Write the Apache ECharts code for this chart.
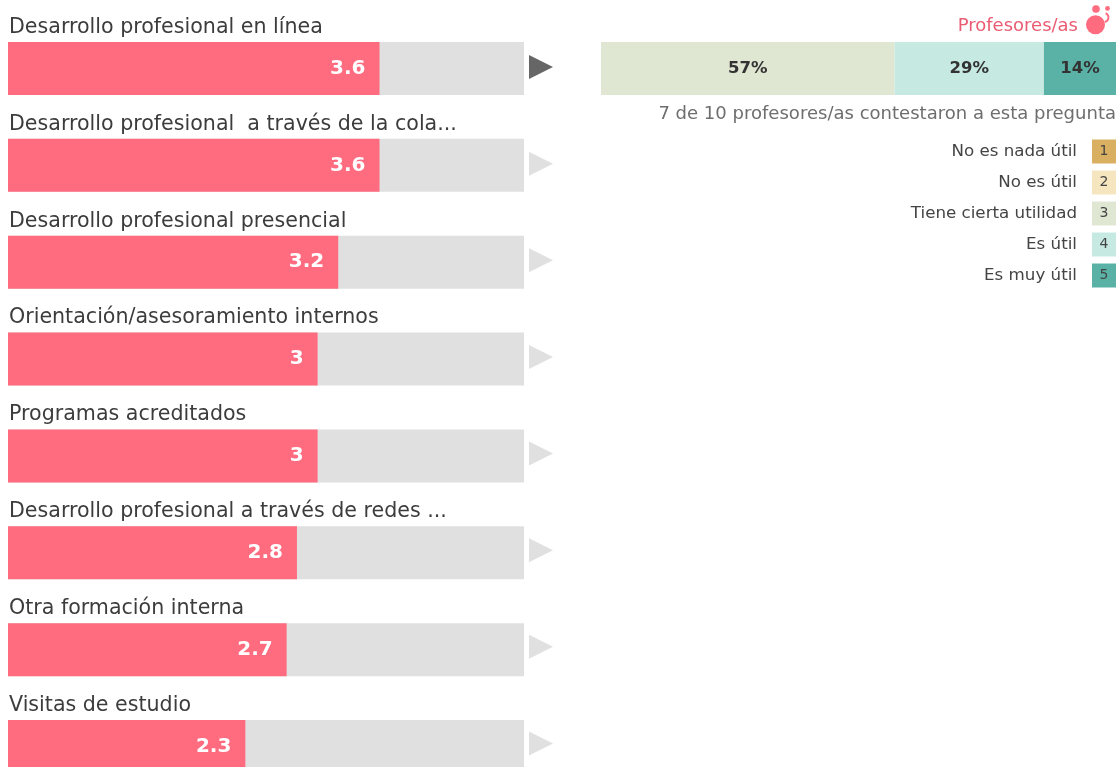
<!DOCTYPE html>
<html>
<head>
<meta charset="utf-8">
<style>
  html, body { margin: 0; padding: 0; background: #fff; overflow: hidden; height: 767px; }
  /* the list runs past the bottom of the window, as in the original page */
  #chart { width: 1118px; height: 800px; }
</style>
<script src="https://cdn.jsdelivr.net/npm/echarts@6/dist/echarts.min.js"></script>
</head>
<body>
<div id="chart"></div>
<script>
const categories = [
  "Desarrollo profesional en línea",
  "Desarrollo profesional  a través de la cola...",
  "Desarrollo profesional presencial",
  "Orientación/asesoramiento internos",
  "Programas acreditados",
  "Desarrollo profesional a través de redes ...",
  "Otra formación interna",
  "Visitas de estudio",
];
const scores = [3.6, 3.6, 3.2, 3, 3, 2.8, 2.7, 2.3];
const selectedIndex = 0;
const shareValues = [57, 29, 14];
const shareLevels = [2, 3, 4];
const levelLabels = ["No es nada útil", "No es útil", "Tiene cierta utilidad", "Es útil", "Es muy útil"];
const levelKeys = [1, 2, 3, 4, 5];
const levelColors = ["#d9af62", "#f6e6c0", "#dfe6d2", "#c6eae2", "#5ab2a6"];

const FONT = "DejaVu Sans";
const PINK = "#ff6b7f";
const chart = echarts.init(document.getElementById("chart"), null, { renderer: "canvas" });

const option = {
  animation: false,
  textStyle: { fontFamily: FONT },
  grid: [
    { left: 8, top: 20, width: 516, height: 775 },   // score bars
    { left: 529, top: 18.7, width: 24, height: 773 },  // arrows
    { left: 601, top: 42, width: 515, height: 53 },  // stacked share
    { left: 1092, top: 136, width: 24, height: 155 }, // level key
  ],
  xAxis: [
    { gridIndex: 0, type: "value", min: 0, max: 5, show: false },
    { gridIndex: 1, type: "category", data: ["arrow"], show: false },
    { gridIndex: 2, type: "value", min: 0, max: 100, show: false },
    { gridIndex: 3, type: "value", min: 0, max: 1, show: false },
  ],
  yAxis: [
    { gridIndex: 0, type: "category", inverse: true, data: categories, show: false },
    { gridIndex: 1, type: "category", inverse: true, data: categories, show: false },
    { gridIndex: 2, type: "category", data: ["share"], show: false },
    {
      gridIndex: 3,
      type: "category",
      inverse: true,
      data: levelLabels,
      axisLine: { show: false },
      axisTick: { show: false },
      axisLabel: { margin: 15, interval: 0, color: "#444", fontSize: 16.7, fontFamily: FONT },
    },
  ],
  series: [
    {
      type: "bar",
      xAxisIndex: 0,
      yAxisIndex: 0,
      data: scores,
      barWidth: 53,
      itemStyle: { color: PINK },
      showBackground: true,
      backgroundStyle: { color: "#e0e0e0" },
      label: {
        show: true,
        position: "insideRight",
        distance: 14,
        color: "#fff",
        fontWeight: "bold",
        fontSize: 20,
        fontFamily: FONT,
      },
    },
    // names sit above each bar
    {
      type: "scatter",
      xAxisIndex: 0,
      yAxisIndex: 0,
      symbolSize: 0,
      itemStyle: { opacity: 1 },
      data: categories.map((c, i) => [0, i]),
      label: {
        show: true,
        position: "right",
        distance: 0,
        offset: [1, -41],
        formatter: (p) => categories[p.dataIndex],
        color: "#3c3c3c",
        opacity: 1,
        fontSize: 20.6,
        fontFamily: FONT,
      },
    },
    {
      type: "scatter",
      xAxisIndex: 1,
      yAxisIndex: 1,
      symbol: "triangle",
      symbolRotate: -90,
      symbolSize: [24, 24],
      data: categories.map((c, i) => ({
        value: ["arrow", i],
        itemStyle: { color: i === selectedIndex ? "#666666" : "#e0e0e0", opacity: 1 },
      })),
    },
    ...shareValues.map((v, i) => ({
      type: "bar",
      stack: "share",
      xAxisIndex: 2,
      yAxisIndex: 2,
      barWidth: 53,
      data: [v],
      itemStyle: { color: levelColors[shareLevels[i]] },
      label: {
        show: true,
        position: "inside",
        formatter: "{c}%",
        color: "#333",
        fontWeight: "bold",
        fontSize: 16.5,
        fontFamily: FONT,
      },
    })),
    {
      type: "bar",
      xAxisIndex: 3,
      yAxisIndex: 3,
      barWidth: 24,
      data: levelKeys.map((k, i) => ({ value: 1, name: String(k), itemStyle: { color: levelColors[i] } })),
      label: {
        show: true,
        position: "inside",
        formatter: (p) => levelKeys[p.dataIndex],
        color: "#444",
        fontSize: 14,
        fontFamily: FONT,
      },
    },
  ],
  graphic: [
    {
      type: "text",
      right: 40,
      top: 17,
      style: { text: "Profesores/as", fill: "#ea5c72", font: "18px '" + FONT + "'" },
    },
    {
      type: "text",
      right: 2,
      top: 105,
      style: { text: "7 de 10 profesores/as contestaron a esta pregunta", fill: "#6e6e6e", font: "18.05px '" + FONT + "'" },
    },
    // person icon next to the series name
    { type: "circle", shape: { cx: 1095.5, cy: 24.8, r: 9.5 }, style: { fill: PINK } },
    { type: "circle", shape: { cx: 1096, cy: 9, r: 3.8 }, style: { fill: PINK } },
    { type: "circle", shape: { cx: 1107.5, cy: 8.4, r: 2.4 }, style: { fill: PINK } },
    {
      type: "arc",
      shape: { cx: 1104, cy: 17.5, r: 4.5, startAngle: -1.2, endAngle: 1.4 },
      style: { stroke: PINK, lineWidth: 2, fill: null },
    },
  ],
};

chart.setOption(option);
</script>
</body>
</html>
